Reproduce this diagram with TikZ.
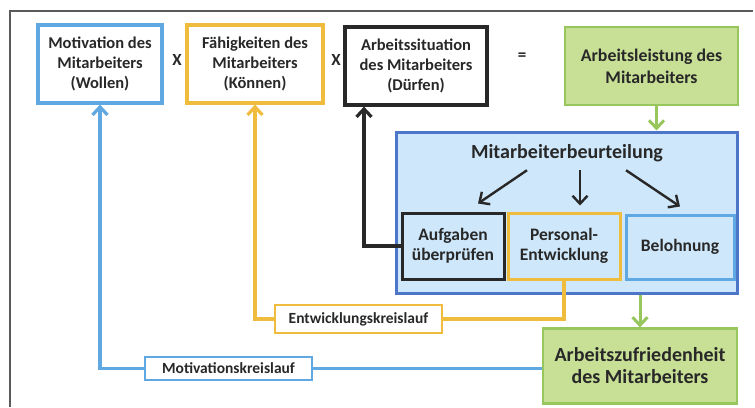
\documentclass[tikz,border=0pt]{standalone}
\usepackage{fontspec}
\setmainfont{Carlito}
\usetikzlibrary{calc,positioning,arrows.meta}

\definecolor{wollenblue}{RGB}{95,168,225}
\definecolor{koennenorange}{RGB}{240,188,62}
\definecolor{leistgreen}{RGB}{200,224,150}
\definecolor{leistborder}{RGB}{150,198,92}
\definecolor{beurtfill}{RGB}{206,231,250}
\definecolor{beurtborder}{RGB}{78,118,200}
\definecolor{textgray}{RGB}{40,40,40}
\definecolor{framegray}{RGB}{90,90,90}

\tikzset{
  factor/.style={draw,line width=3.2pt,fill=white,align=center,text=textgray,
    font=\bfseries\fontsize{16.5}{20}\selectfont,inner sep=0pt},
  result/.style={draw=leistborder,line width=2.2pt,fill=leistgreen,align=center,
    text=textgray,inner sep=0pt},
  subbox/.style={draw,line width=3pt,fill=beurtfill,align=center,text=textgray,
    font=\bfseries\fontsize{17.5}{20}\selectfont,inner sep=0pt,
    minimum height=66pt},
  looplabel/.style={draw,line width=2pt,fill=white,text=textgray,
    font=\bfseries\fontsize{15.5}{17}\selectfont,inner sep=0pt,minimum width=167pt},
  sign/.style={text=textgray,font=\bfseries\fontsize{17}{17}\selectfont},
  loopline/.style={line width=3.2pt},
}

\begin{document}
\begin{tikzpicture}[x=1pt,y=-1pt,>={Straight Barb[length=8pt,width=15pt]}]
  \useasboundingbox (0,0) rectangle (755,407);
  \draw[framegray,line width=1.6pt] (10,407) -- (10,11) -- (753,11);

  %%%% top row
  \node[factor,draw=wollenblue,minimum width=124pt,minimum height=78pt] (mot) at (100,64)
    {Motivation des\\Mitarbeiters\\(Wollen)};
  \node[factor,draw=koennenorange,minimum width=136pt,minimum height=78pt] (faeh) at (255,64)
    {Fähigkeiten des\\Mitarbeiters\\(Können)};
  \node[factor,draw=textgray,minimum width=142pt,minimum height=78pt] (arb) at (416,66)
    {Arbeitssituation\\des Mitarbeiters\\(Dürfen)};
  \node[result,minimum width=173pt,minimum height=78pt,
    font=\bfseries\fontsize{17.8}{22}\selectfont] (leist) at (651.5,66)
    {Arbeitsleistung des\\Mitarbeiters};

  \node[sign] (x1) at (177,60) {X};
  \node[sign] (x2) at (336,60) {X};
  \node[sign] (eq) at (522,57) {=};

  %%%% Mitarbeiterbeurteilung
  \node[draw=beurtborder,fill=beurtfill,line width=3pt,minimum width=341pt,
    minimum height=161pt,inner sep=0pt] (beurt) at (566.5,212.5) {};
  \node[text=textgray,font=\bfseries\fontsize{20}{22}\selectfont] (title) at (567,153)
    {Mitarbeiterbeurteilung};

  \node[subbox,draw=textgray,minimum width=102pt] (aufg) at (453,246) {Aufgaben\\überprüfen};
  \node[subbox,draw=koennenorange,minimum width=112pt] (pers) at (564,246) {Personal-\\Entwicklung};
  \node[subbox,draw=wollenblue,minimum width=108pt,minimum height=64pt] (bel) at (680,247) {Belohnung};

  \draw[->,line width=2.4pt,textgray] ([xshift=-40pt,yshift=-5pt]title.south) -- ([xshift=25pt,yshift=8pt]aufg.north);
  \draw[->,line width=2.4pt,textgray] ([xshift=13pt,yshift=-5pt]title.south) -- ([xshift=16pt,yshift=6pt]pers.north);
  \draw[->,line width=2.4pt,textgray] ([xshift=59pt,yshift=-5pt]title.south) -- ([yshift=7pt]bel.north);

  %%%% Arbeitszufriedenheit
  \node[result,minimum width=194pt,minimum height=75pt,
    font=\bfseries\fontsize{20}{22}\selectfont] (zufr) at (640,366)
    {Arbeitszufriedenheit\\des Mitarbeiters};

  \draw[->,leistborder,line width=3pt] ([xshift=5pt]leist.south) -- ([xshift=5pt]leist.south |- beurt.north);
  \draw[->,leistborder,line width=3pt] (zufr.north |- beurt.south) -- (zufr.north);

  %%%% Kreislaeufe
  \node[looplabel,draw=koennenorange,minimum height=28pt] (entw) at (358.5,319) {Entwicklungskreislauf};
  \node[looplabel,draw=wollenblue,minimum height=23pt] (motk) at (228.5,368.5) {Motivationskreislauf};

  \coordinate (arbfoot) at ([xshift=-52pt]arb.south);

  \draw[->,loopline,textgray] (aufg.west) -| (arbfoot);
  \draw[loopline,koennenorange] (pers.south) |- (entw.east);
  \draw[->,loopline,koennenorange] (entw.west) -| (faeh.south);
  \draw[loopline,wollenblue] (zufr.west |- motk.east) -- (motk.east);
  \draw[->,loopline,wollenblue] (motk.west) -| (mot.south);

\end{tikzpicture}
\end{document}
